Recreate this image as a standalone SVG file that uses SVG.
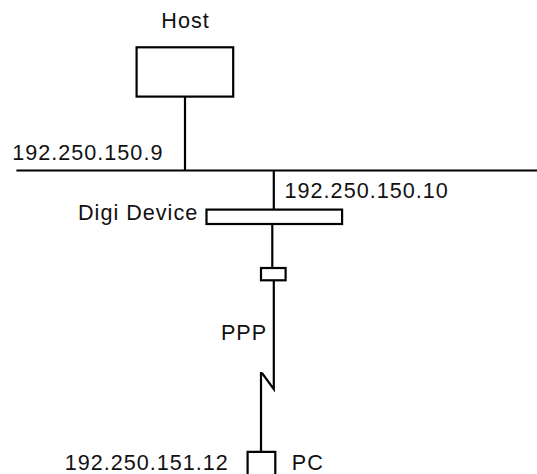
<svg xmlns="http://www.w3.org/2000/svg" width="537" height="474" viewBox="0 0 537 474">
<style>
.s{fill:none;stroke:#000;stroke-width:2.2}
.t{font-family:"Liberation Sans",Arial,sans-serif;font-size:21.6px;letter-spacing:1px;fill:#111}
</style>
<rect width="537" height="474" fill="#fff"/>
<g id="host">
<rect class="s" x="136.6" y="47.3" width="96.6" height="49.3"/>
<text class="t" x="161.3" y="27.7">Host</text>
</g>
<g id="bus">
<line class="s" x1="16.4" y1="170.5" x2="537" y2="170.5"/>
<text class="t" x="12.3" y="160.3">192.250.150.9</text>
</g>
<g id="digi">
<rect class="s" x="206.5" y="209.6" width="135.6" height="14.4"/>
<text class="t" x="78" y="219.9">Digi Device</text>
<text class="t" x="284.6" y="198.3">192.250.150.10</text>
</g>
<g id="port">
<rect class="s" x="261" y="268" width="24.6" height="12.3"/>
</g>
<g id="pc">
<path class="s" d="M247.6,474 V451.9 H275.3 V474"/>
<text class="t" x="64.7" y="469.5">192.250.151.12</text>
<text class="t" x="291.8" y="469.5">PC</text>
</g>
<g id="connectors">
<line class="s" x1="185" y1="96.6" x2="185" y2="170.5"/>
<line class="s" x1="273.8" y1="170.5" x2="273.8" y2="209.6"/>
<line class="s" x1="272.3" y1="224" x2="272.3" y2="268"/>
<path class="s" d="M273.8,280.3 V389.2 L262,373"/>
<line class="s" x1="261" y1="372" x2="261" y2="453"/>
<text class="t" x="220.9" y="339.9">PPP</text>
</g>
</svg>
